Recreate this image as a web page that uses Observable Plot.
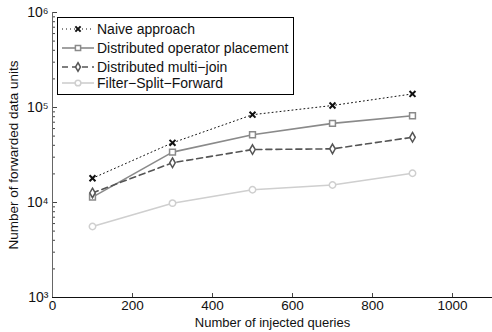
<!DOCTYPE html>
<html>
<head>
<meta charset="utf-8">
<script src="https://cdn.jsdelivr.net/npm/d3@7"></script>
<script src="https://cdn.jsdelivr.net/npm/@observablehq/plot@0.6"></script>
<style>
  html, body { margin: 0; padding: 0; background: #fff; }
  #wrap { position: relative; width: 492px; height: 332px; font-family: "Liberation Sans", Arial, sans-serif; }
  #legend { position: absolute; left: 57px; top: 17px; width: 235px; height: 76px; border: 1px solid #000; background: #fff; font-size: 14px; color: #111; }
  .row { position: absolute; left: 4px; height: 18px; display: flex; align-items: center; }
  .row span { margin-left: 3px; white-space: nowrap; }
</style>
</head>
<body>
<div id="wrap"></div>
<script>
const queries = [100, 300, 500, 700, 900];
const seriesNames = ["Naive approach", "Distributed operator placement", "Distributed multi\u2212join", "Filter\u2212Split\u2212Forward"];
const naive = [18000, 42500, 84000, 105000, 139000];
const operatorPlacement = [11400, 33900, 51600, 68000, 81800];
const multiJoin = [12600, 26200, 36100, 36700, 48600];
const filterSplitForward = [5580, 9840, 13600, 15300, 20300];
const xTicks = [0, 200, 400, 600, 800, 1000];
const yTicks = [1e3, 1e4, 1e5, 1e6];
const yTickLabels = ["10\u00b3", "10\u2074", "10\u2075", "10\u2076"];
const xLabel = "Number of injected queries";
const yLabel = "Number of forwarded data units";

const styles = [
  {stroke: "#111", dash: "1,3", width: 1, symbol: "times", r: 2.8, sw: 2},
  {stroke: "#8a8a8a", dash: null, width: 1.6, symbol: "square", r: 3.3, sw: 1.5},
  {stroke: "#555", dash: "6,4", width: 1.6, symbol: "diamond", r: 2.9, sw: 1.5},
  {stroke: "#cfcfcf", dash: null, width: 1.6, symbol: "circle", r: 3.2, sw: 1.5}
];
const allSeries = [naive, operatorPlacement, multiJoin, filterSplitForward];
const data = allSeries.map((vals, i) => queries.map((q, j) => ({x: q, y: vals[j], s: i})));

const minor = [];
for (let e = 3; e < 6; e++) for (let m = 2; m <= 9; m++) minor.push(m * 10 ** e);

const marks = [];
data.forEach((d, i) => {
  const st = styles[i];
  marks.push(Plot.line(d, {x: "x", y: "y", stroke: st.stroke, strokeWidth: st.width, strokeDasharray: st.dash}));
});
data.forEach((d, i) => {
  const st = styles[i];
  marks.push(Plot.dot(d, {x: "x", y: "y", symbol: () => st.symbol, r: st.r, stroke: st.stroke, strokeWidth: st.sw, fill: "white"}));
});

const chart = Plot.plot({
  width: 492,
  height: 332,
  marginLeft: 52,
  marginRight: 0,
  marginTop: 12,
  marginBottom: 35,
  style: {fontFamily: "Liberation Sans, Arial, sans-serif", fontSize: "13.5px", color: "#111", background: "#fff"},
  x: {domain: [0, 1100]},
  y: {type: "log", domain: [1e3, 1e6]},
  symbol: {type: "identity"},
  marks: [
    ...marks,
    Plot.axisY(minor, {tickSize: -3, tickFormat: () => "", label: null, stroke: "#444"}),
    Plot.axisY(yTicks, {tickSize: -5, tickPadding: 9, tickFormat: (d) => yTickLabels[yTicks.indexOf(d)], label: null, stroke: "#444", fontSize: 14}),
    Plot.axisX(xTicks, {tickSize: -4, tickPadding: 7, tickFormat: d => String(d), label: null, stroke: "#444", fontSize: 13.5}),
    Plot.ruleX([0], {stroke: "#666"}),
    Plot.ruleY([1e3], {stroke: "#111"}),
    Plot.text([xLabel], {frameAnchor: "bottom", dy: 29, text: d => d, fontSize: 13}),
    Plot.text([yLabel], {frameAnchor: "left", dx: -39, rotate: -90, textAnchor: "middle", text: d => d, fontSize: 13.5})
  ]
});
const wrap = document.getElementById("wrap");
wrap.appendChild(chart);

// legend
const legend = document.createElement("div");
legend.id = "legend";
const rowTops = [2, 21, 40, 56];
seriesNames.forEach((name, i) => {
  const st = styles[i];
  const row = document.createElement("div");
  row.className = "row";
  row.style.top = rowTops[i] + "px";
  const svg = d3.create("svg").attr("width", 32).attr("height", 18);
  svg.append("line").attr("x1", 0).attr("x2", 32).attr("y1", 9).attr("y2", 9)
    .attr("stroke", st.stroke).attr("stroke-width", st.width).attr("stroke-dasharray", st.dash);
  const symMap = {times: d3.symbolTimes, square: d3.symbolSquare, diamond: d3.symbolDiamond, circle: d3.symbolCircle};
  svg.append("path").attr("transform", "translate(16,9)")
    .attr("d", d3.symbol(symMap[st.symbol], Math.PI * st.r * st.r * 0.8)())
    .attr("fill", "white").attr("stroke", st.stroke).attr("stroke-width", st.sw);
  row.appendChild(svg.node());
  const sp = document.createElement("span");
  sp.textContent = name;
  row.appendChild(sp);
  legend.appendChild(row);
});
wrap.appendChild(legend);
</script>
</body>
</html>
